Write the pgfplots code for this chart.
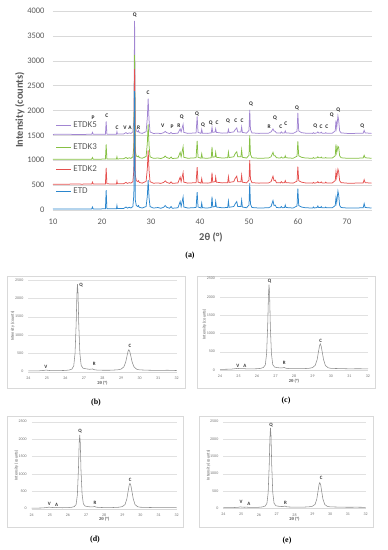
\documentclass[border=0pt]{standalone}
\usepackage{fontspec}
\setmainfont{Carlito}
\newfontfamily\capfont{Liberation Serif}
\usepackage{pgfplots}
\usepackage{pgfplotstable}
\pgfplotsset{compat=1.18}
\definecolor{tickgray}{HTML}{595959}
\definecolor{gridgray}{HTML}{D9D9D9}
\definecolor{cETD}{HTML}{2B86CD}
\definecolor{cK2}{HTML}{E5504E}
\definecolor{cK3}{HTML}{86C044}
\definecolor{cK5}{HTML}{A286D2}
\definecolor{subline}{HTML}{8C8C8C}

\pgfplotstableread{
x E K2 K3 K5
10.0 20 520 1020 1520
12.0 22 518 1020 1522
14.0 20 521 1019 1520
16.0 21 520 1022 1519
17.9 22 522 1022 1522
18.05 60 560 1055 1560
18.2 22 522 1022 1522
19.5 22 524 1022 1523
20.7 24 524 1024 1524
20.85 400 845 1320 1780
21.0 26 526 1025 1525
22.0 25 524 1026 1525
22.95 25 525 1025 1525
23.05 90 580 1070 1575
23.15 28 527 1027 1527
24.4 30 528 1030 1528
24.9 60 555 1055 1555
25.2 38 535 1035 1535
25.55 55 550 1050 1550
25.9 40 540 1038 1538
26.3 70 570 1070 1570
26.5 300 800 1280 1800
26.65 2390 2830 3120 3800
26.8 200 700 1180 1700
27.0 90 590 1085 1590
27.3 70 570 1070 1570
27.45 90 590 1085 1600
27.6 55 555 1055 1555
28.2 40 540 1040 1540
29.0 70 575 1075 1575
29.25 280 830 1340 1850
29.42 600 1200 1720 2240
29.6 250 800 1300 1810
29.8 70 570 1070 1570
30.5 38 538 1038 1538
31.4 50 545 1045 1545
32.0 35 535 1035 1535
32.6 55 555 1055 1555
32.9 90 585 1085 1580
33.2 55 555 1055 1555
33.8 35 535 1035 1535
34.1 70 565 1065 1560
34.35 35 535 1035 1535
35.5 45 545 1045 1545
35.95 170 660 1160 1630
36.15 70 570 1070 1570
36.55 260 750 1270 1720
36.7 60 560 1060 1560
37.5 40 540 1040 1540
39.2 50 550 1050 1550
39.42 360 860 1390 1880
39.6 60 560 1060 1560
40.2 40 540 1040 1540
40.35 140 630 1130 1620
40.5 45 545 1045 1545
41.5 40 540 1040 1540
42.3 50 550 1050 1550
42.45 270 750 1270 1660
42.6 60 560 1060 1560
43.1 70 570 1070 1570
43.2 170 660 1160 1630
43.35 60 560 1060 1560
44.5 45 545 1045 1545
45.65 50 550 1050 1550
45.8 180 670 1165 1620
45.95 55 555 1055 1555
46.9 70 570 1070 1570
47.15 120 630 1130 1610
47.5 170 680 1170 1650
47.7 70 570 1070 1570
48.35 70 570 1070 1570
48.5 200 700 1210 1670
48.65 60 560 1060 1560
49.5 45 545 1045 1545
50.0 100 600 1100 1600
50.15 540 1000 1500 2010
50.3 120 620 1120 1620
50.6 50 550 1050 1550
52.0 40 540 1040 1540
54.0 45 545 1045 1545
54.5 70 570 1070 1570
54.9 190 680 1160 1630
55.1 90 590 1090 1590
55.35 100 600 1090 1580
55.6 50 550 1050 1550
56.4 45 545 1045 1545
56.6 70 570 1065 1570
56.8 45 545 1045 1545
57.25 50 550 1050 1550
57.4 100 590 1090 1590
57.55 50 550 1050 1550
59.0 40 540 1040 1540
59.8 80 580 1080 1580
59.97 430 870 1380 1950
60.15 90 590 1090 1590
60.7 60 560 1060 1555
61.5 45 545 1045 1545
63.0 40 540 1040 1540
63.15 60 555 1055 1555
63.3 40 540 1040 1540
63.9 50 550 1050 1550
64.05 80 570 1070 1570
64.2 50 550 1050 1550
64.6 50 550 1050 1550
64.75 70 565 1065 1565
64.9 45 545 1045 1545
65.55 45 545 1045 1545
65.65 60 560 1055 1555
65.8 45 545 1045 1545
67.0 45 545 1045 1545
67.6 90 590 1090 1590
67.75 250 770 1320 1800
67.9 150 650 1150 1650
68.15 380 820 1280 1890
68.3 300 770 1260 1800
68.5 90 590 1090 1590
68.8 50 550 1050 1550
70.0 40 540 1040 1540
71.5 40 540 1040 1540
73.3 45 545 1045 1545
73.5 130 610 1100 1600
73.7 50 550 1050 1550
75.0 40 540 1040 1540
}\maindata

\pgfplotstableread{
x B C D E
24.0 20 18 15 18
24.3 22 20 18 20
24.6 25 24 22 22
24.85 35 38 35 30
24.95 45 45 45 40
25.05 38 38 38 35
25.2 30 35 32 30
25.3 28 40 40 35
25.4 28 32 30 28
25.7 30 30 28 26
26.0 35 35 32 30
26.2 45 45 40 40
26.35 70 70 60 65
26.45 160 140 120 140
26.52 500 450 400 450
26.58 1300 1250 1150 1250
26.62 2100 2050 1900 2050
26.65 2390 2330 2120 2320
26.68 2150 2100 1900 2100
26.72 1300 1200 1100 1250
26.78 500 450 420 450
26.85 170 150 140 150
26.95 95 80 75 75
27.1 80 65 60 60
27.3 65 55 50 50
27.4 70 60 55 55
27.47 75 70 65 65
27.55 55 50 45 45
27.7 45 40 38 38
28.0 40 35 32 32
28.4 40 35 32 32
28.8 50 45 42 42
29.0 70 65 60 58
29.15 130 130 120 110
29.25 260 280 280 260
29.33 450 520 530 520
29.38 560 660 680 690
29.42 600 715 730 740
29.47 550 650 670 680
29.53 420 480 500 480
29.6 260 280 290 260
29.7 130 120 120 110
29.85 65 60 55 55
30.0 50 45 42 42
30.5 40 38 35 35
31.0 35 32 30 30
31.5 40 35 32 32
32.0 32 30 28 28
}\subdata

\pgfplotsset{
  subxrd/.style={
    scale only axis, xmin=24, xmax=32, ymin=0, ymax=2500,
    xtick={24,...,32}, ytick={0,500,...,2500},
    axis lines*=left, y axis line style={draw=none},
    x axis line style={draw=gridgray, line width=0.4bp},
    major tick length=0pt, ymajorgrids,
    grid style={draw=gridgray!80, line width=0.3bp},
    tick label style={font=\fontsize{4}{4.5}\selectfont, text=tickgray!85},
    /pgf/number format/assume math mode=true, /pgf/number format/1000 sep={},
    xticklabel style={yshift=-1.5bp}, yticklabel style={xshift=-1.5bp},
    xlabel={2θ (°)}, ylabel={Intensity (counts)},
    xlabel style={font=\fontsize{4.5}{5}\selectfont\bfseries, text=tickgray, at={(axis description cs:0.5,-0.123)}, anchor=center},
    ylabel style={font=\fontsize{4.3}{5}\selectfont, text=tickgray, at={(axis description cs:-0.105,0.5)}, anchor=center},
    clip=false,
  },
}
\tikzset{
  plab/.style={font=\fontsize{5}{5.5}\selectfont\bfseries, text=black!80, inner sep=0pt, anchor=center},
  mlab/.style={font=\fontsize{5.5}{6}\selectfont\bfseries, text=black!85, inner sep=0pt, anchor=center},
}

\begin{document}
\begin{tikzpicture}
\path[use as bounding box] (0bp,0bp) rectangle (388bp,-550bp);

% ---------------- (a) ----------------
\begin{axis}[
  at={(53bp,-210bp)}, anchor=south west,
  scale only axis, width=318.5bp, height=199bp,
  xmin=10, xmax=75, ymin=0, ymax=4000,
  xtick={10,20,...,70}, ytick={0,500,...,4000},
  axis lines*=left, y axis line style={draw=none},
  x axis line style={draw=gridgray, line width=0.6bp},
  major tick length=0pt,
  ymajorgrids, grid style={draw=gridgray, line width=0.5bp},
  tick label style={font=\fontsize{8.5}{9}\selectfont, text=tickgray},
  /pgf/number format/assume math mode=true, /pgf/number format/1000 sep={},
  xticklabel style={yshift=-5bp}, yticklabel style={xshift=-5bp},
  xlabel={2θ (°)}, ylabel={Intensity (counts)},
  label style={font=\fontsize{10.5}{12}\selectfont\bfseries, text=tickgray},
  xlabel style={at={(axis description cs:0.496,-0.1357)}, anchor=center},
  ylabel style={at={(axis description cs:-0.104,0.5025)}, anchor=center},
  clip=false,
  legend style={at={(axis cs:10.5,1800)}, anchor=north west, draw=none, fill=none,
    font=\fontsize{9}{10}\selectfont, text=tickgray, row sep=11.7bp, inner sep=0pt,
    nodes={inner sep=1.5bp}},
  legend cell align=left,
  legend image code/.code={\draw[#1, line width=1.3bp] (0bp,0bp) -- (15bp,0bp);},
]
\addplot[cK5, line width=0.75bp] table[x=x, y=K5] {\maindata};
\addlegendentry{ETDK5}
\addplot[cK3, line width=0.75bp] table[x=x, y=K3] {\maindata};
\addlegendentry{ETDK3}
\addplot[cK2, line width=0.75bp] table[x=x, y=K2] {\maindata};
\addlegendentry{ETDK2}
\addplot[cETD, line width=0.75bp] table[x=x, y=E] {\maindata};
\addlegendentry{ETD}

\node[mlab] at (axis cs:26.7,3920) {Q};
\node[mlab] at (axis cs:29.4,2350) {C};
\node[mlab] at (axis cs:18.2,1850) {P};
\node[mlab] at (axis cs:21.0,1890) {C};
\node[mlab] at (axis cs:23.1,1650) {C};
\node[mlab] at (axis cs:24.7,1650) {V};
\node[mlab] at (axis cs:25.7,1650) {A};
\node[mlab] at (axis cs:27.5,1650) {R};
\node[mlab] at (axis cs:32.4,1690) {V};
\node[mlab] at (axis cs:34.3,1670) {P};
\node[mlab] at (axis cs:35.7,1690) {R};
\node[mlab] at (axis cs:36.3,1870) {Q};
\node[mlab] at (axis cs:39.4,1930) {Q};
\node[mlab] at (axis cs:40.6,1710) {Q};
\node[mlab] at (axis cs:42.2,1750) {Q};
\node[mlab] at (axis cs:43.5,1750) {C};
\node[mlab] at (axis cs:45.7,1790) {Q};
\node[mlab] at (axis cs:47.3,1790) {C};
\node[mlab] at (axis cs:48.6,1790) {C};
\node[mlab] at (axis cs:50.4,2130) {Q};
\node[mlab] at (axis cs:54.1,1670) {R};
\node[mlab] at (axis cs:55.3,1850) {Q};
\node[mlab] at (axis cs:56.5,1670) {C};
\node[mlab] at (axis cs:57.5,1730) {C};
\node[mlab] at (axis cs:59.8,2050) {Q};
\node[mlab] at (axis cs:63.5,1690) {Q};
\node[mlab] at (axis cs:64.7,1670) {C};
\node[mlab] at (axis cs:65.9,1670) {C};
\node[mlab] at (axis cs:66.9,1910) {Q};
\node[mlab] at (axis cs:68.2,2010) {Q};
\node[mlab] at (axis cs:73.1,1690) {Q};
\end{axis}
\node[font=\fontsize{8}{9}\selectfont\capfont\bfseries] at (190bp,-256bp) {(a)};

% frames
\draw[gridgray, line width=0.5bp] (7bp,-276.5bp) rectangle (185bp,-388bp);
\draw[gridgray, line width=0.5bp] (197bp,-276.5bp) rectangle (375bp,-388.5bp);
\draw[gridgray, line width=0.5bp] (7bp,-416.5bp) rectangle (183bp,-527bp);
\draw[gridgray, line width=0.5bp] (199bp,-416.5bp) rectangle (373bp,-527bp);

% ---------------- (b) ----------------
\begin{axis}[subxrd, at={(28.3bp,-371.7bp)}, anchor=south west, width=148.4bp, height=91.7bp]
\addplot[subline, line width=0.55bp] table[x=x, y=B] {\subdata};
\node[plab] at (axis cs:26.84,2364) {Q};
\node[plab] at (axis cs:29.48,700) {C};
\node[plab] at (axis cs:24.95,135) {V};
\node[plab] at (axis cs:27.56,200) {R};
\end{axis}
\node[font=\fontsize{8}{9}\selectfont\capfont\bfseries] at (96bp,-403bp) {(b)};

% ---------------- (c) ----------------
\begin{axis}[subxrd, at={(220bp,-370bp)}, anchor=south west, width=148bp, height=91.5bp]
\addplot[subline, line width=0.55bp] table[x=x, y=C] {\subdata};
\node[plab] at (axis cs:26.68,2420) {Q};
\node[plab] at (axis cs:29.44,800) {C};
\node[plab] at (axis cs:24.96,118) {V};
\node[plab] at (axis cs:25.35,118) {A};
\node[plab] at (axis cs:27.48,200) {R};
\end{axis}
\node[font=\fontsize{8}{9}\selectfont\capfont\bfseries] at (286bp,-401bp) {(c)};

% ---------------- (d) ----------------
\begin{axis}[subxrd, at={(31.7bp,-508.7bp)}, anchor=south west, width=145bp, height=87bp]
\addplot[subline, line width=0.55bp] table[x=x, y=D] {\subdata};
\node[plab] at (axis cs:26.67,2233) {Q};
\node[plab] at (axis cs:29.43,825) {C};
\node[plab] at (axis cs:24.97,135) {V};
\node[plab] at (axis cs:25.38,106) {A};
\node[plab] at (axis cs:27.5,172) {R};
\end{axis}
\node[font=\fontsize{8}{9}\selectfont\capfont\bfseries] at (95bp,-540bp) {(d)};

% ---------------- (e) ----------------
\begin{axis}[subxrd, at={(223.3bp,-508.3bp)}, anchor=south west, width=142.4bp, height=86.6bp]
\addplot[subline, line width=0.55bp] table[x=x, y=E] {\subdata};
\node[plab] at (axis cs:26.68,2405) {Q};
\node[plab] at (axis cs:29.5,866) {C};
\node[plab] at (axis cs:25.0,190) {V};
\node[plab] at (axis cs:25.44,124) {A};
\node[plab] at (axis cs:27.5,162) {R};
\end{axis}
\node[font=\fontsize{8}{9}\selectfont\capfont\bfseries] at (287bp,-541bp) {(e)};
\end{tikzpicture}
\end{document}
